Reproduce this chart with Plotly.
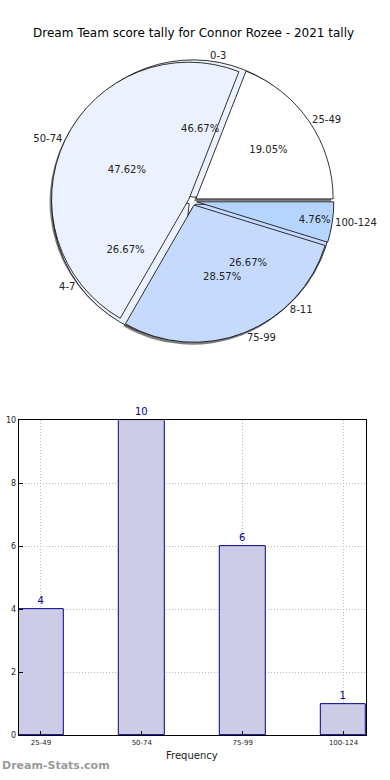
import plotly.graph_objects as go

# ---- data ----
score_labels = ["25-49", "50-74", "75-99", "100-124"]
score_counts = [4, 10, 6, 1]
goal_labels = ["0-3", "4-7", "8-11"]
goal_counts = [7, 4, 4]
pie_colors = ["#ffffff", "#ebf2fe", "#c6dafe", "#b5d5fe"]
goal_colors = ["#ebf2fe", "#ebf2fe", "#c6dafe"]
y_ticks = [0, 2, 4, 6, 8, 10]

W, H = 390, 780
FONT = "DejaVu Sans"

# pie placement (paper fractions)
cx, cy, rad = 194.5 / W, 1 - 199.5 / H, 143.0
dom_x = [cx - rad / W, cx + rad / W]
dom_y = [cy - rad / H, cy + rad / H]
pull = 0.03


def ccw_rotation(vals):
    # plotly puts the first slice clockwise of `rotation` in ccw mode;
    # shift so the first slice starts at 3 o'clock and goes counterclockwise
    return 90 - 360.0 * vals[0] / sum(vals)


def common(vals):
    return dict(sort=False, direction="counterclockwise", rotation=ccw_rotation(vals),
                hoverinfo="skip", showlegend=False)


fig = go.Figure()

# shadow
fig.add_trace(go.Pie(values=score_counts, labels=score_labels, pull=[pull] * 4,
                     domain=dict(x=[dom_x[0] - 2 / W, dom_x[1] - 2 / W],
                                 y=[dom_y[0] - 2.5 / H, dom_y[1] - 2.5 / H]),
                     marker=dict(colors=["rgba(0,0,0,0.5)"] * 4, line=dict(width=0)),
                     textinfo="none", **common(score_counts)))
# goal pie background
fig.add_trace(go.Pie(values=goal_counts, labels=goal_labels, pull=[pull] * 3,
                     domain=dict(x=dom_x, y=dom_y),
                     marker=dict(colors=goal_colors, line=dict(color="black", width=0.8)),
                     textinfo="none", **common(goal_counts)))
# score pie
fig.add_trace(go.Pie(values=score_counts, labels=score_labels, pull=[pull] * 4,
                     domain=dict(x=dom_x, y=dom_y),
                     marker=dict(colors=pie_colors, line=dict(color="black", width=0.8)),
                     texttemplate="%{percent:.2%}", textposition="inside",
                     insidetextorientation="horizontal",
                     insidetextfont=dict(family=FONT, size=10, color="#222"),
                     **common(score_counts)))
# score labels outside
fig.add_trace(go.Pie(values=score_counts, labels=score_labels, pull=[pull] * 4,
                     domain=dict(x=dom_x, y=dom_y),
                     marker=dict(colors=["rgba(0,0,0,0)"] * 4, line=dict(width=0)),
                     texttemplate="%{label}", textposition="outside",
                     outsidetextfont=dict(family=FONT, size=10, color="#222"),
                     **common(score_counts)))
# goal pie texts (on top)
fig.add_trace(go.Pie(values=goal_counts, labels=goal_labels, pull=[pull] * 3,
                     domain=dict(x=dom_x, y=dom_y),
                     marker=dict(colors=["rgba(0,0,0,0)"] * 3, line=dict(width=0)),
                     texttemplate="%{percent:.2%}", textposition="inside",
                     insidetextorientation="horizontal",
                     insidetextfont=dict(family=FONT, size=10, color="#222"),
                     **common(goal_counts)))
fig.add_trace(go.Pie(values=goal_counts, labels=goal_labels, pull=[pull] * 3,
                     domain=dict(x=dom_x, y=dom_y),
                     marker=dict(colors=["rgba(0,0,0,0)"] * 3, line=dict(width=0)),
                     texttemplate="%{label}", textposition="outside",
                     outsidetextfont=dict(family=FONT, size=10, color="#222"),
                     **common(goal_counts)))

# bar chart
fig.add_trace(go.Bar(x=score_labels, y=score_counts, width=0.45,
                     marker=dict(color="#ccccE6", line=dict(color="#00008b", width=1)),
                     text=[str(v) for v in score_counts], textposition="outside",
                     textfont=dict(family=FONT, size=10, color="#00008b"),
                     cliponaxis=False, hoverinfo="skip", showlegend=False))

fig.update_layout(
    width=W, height=H, margin=dict(l=0, r=0, t=0, b=0),
    paper_bgcolor="white", plot_bgcolor="white",
    font=dict(family=FONT, color="black"),
    bargap=0,
    xaxis=dict(domain=[19 / W, 370 / W], range=[-0.22, 3.225], type="category",
               showline=True, mirror=True, linecolor="black", linewidth=1,
               ticks="inside", ticklen=4, tickcolor="black",
               showgrid=True, gridcolor="#b8b8b8", griddash="1px,2px", gridwidth=1,
               tickfont=dict(size=7, color="#222"), zeroline=False),
    yaxis=dict(domain=[40 / H, 359 / H], range=[0, 10], tickvals=y_ticks,
               showline=True, mirror=True, linecolor="black", linewidth=1,
               ticks="inside", ticklen=4, tickcolor="black",
               showgrid=True, gridcolor="#b8b8b8", griddash="1px,2px", gridwidth=1,
               tickfont=dict(size=8, color="#222"), zeroline=False),
    annotations=[
        dict(text="Dream Team score tally for Connor Rozee - 2021 tally",
             x=0.5, y=1 - 29 / H, xref="paper", yref="paper", showarrow=False,
             xanchor="center", yanchor="middle", font=dict(size=12, color="black")),
        dict(text="Frequency", x=194 / W, y=1 - 760 / H, xref="paper", yref="paper",
             showarrow=False, xanchor="center", yanchor="middle",
             font=dict(size=10, color="#222")),
        dict(text="<b>Dream-Stats.com</b>", x=0, y=1 - 770 / H, xref="paper", yref="paper",
             showarrow=False, xanchor="left", yanchor="middle",
             font=dict(size=11, color="#9a9a9a")),
    ],
)

fig.write_html("out.html", config={"displayModeBar": False},
               post_script="document.body.style.margin='0';document.body.style.overflow='hidden';")
